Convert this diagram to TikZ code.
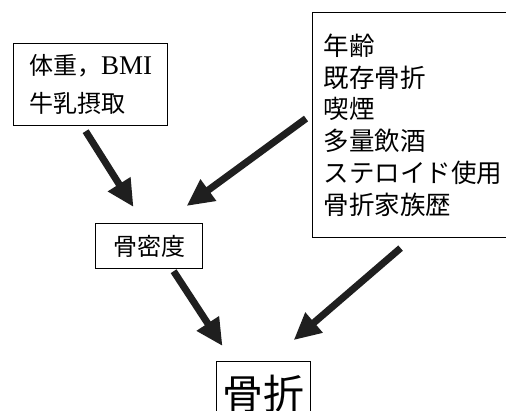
\documentclass[tikz,border=0pt]{standalone}
\usepackage{fontspec}
\setmainfont{Liberation Serif}
\newfontfamily\jp{Noto Sans CJK JP}
\usetikzlibrary{arrows.meta,calc}
\begin{document}
\begin{tikzpicture}[x=1pt,y=-1pt,
  box/.style={draw, line width=1.2pt, inner sep=0pt},
  arr/.style={line width=7pt, draw=black!88, -{Triangle[length=27pt,width=25pt]}}]
\useasboundingbox (0,0) rectangle (506,411);
\clip (0,0) rectangle (506,411);
\node[box, anchor=north west, minimum width=154pt, minimum height=82pt, align=left,
  font=\fontsize{24}{38}\selectfont\jp] (bmi) at (13,43) {体重，{\rmfamily\fontsize{27}{38}\selectfont BMI}\\牛乳摂取};
\node[box, anchor=north west, minimum height=225pt, inner xsep=11pt, text width=186pt, align=left,
  font=\fontsize{25.5}{31.8}\selectfont\jp] (facts) at (312,12)
  {年齢\\既存骨折\\喫煙\\多量飲酒\\ステロイド使用\\骨折家族歴};
\node[box, anchor=north west, minimum width=107pt, minimum height=45pt,
  font=\fontsize{24}{28}\selectfont\jp] (bmd) at (95,223) {骨密度};
\node[box, anchor=north west, minimum width=94pt, minimum height=64pt,
  font=\fontsize{41}{45}\selectfont\jp] (frac) at (216,361) {骨折};
\draw[arr, shorten <=5.9pt, shorten >=18.9pt] ($(bmi.south)+(-8.1,0)$) -- ($(bmd.north)+(-5.5,0)$);
\draw[arr, shorten <=7.4pt, shorten >=28.8pt] ($(facts.west)+(0,-10.9)$) -- ($(bmd.north)+(14.3,0)$);
\draw[arr, shorten <=2.4pt, shorten >=17.9pt] ($(bmd.south)+(23.2,0)$) -- ($(frac.north)+(-31.3,0)$);
\draw[arr, shorten <=15.2pt, shorten >=32pt] ($(facts.south)+(-4.5,0)$) -- ($(frac.north)+(5.8,0)$);
\end{tikzpicture}
\end{document}
